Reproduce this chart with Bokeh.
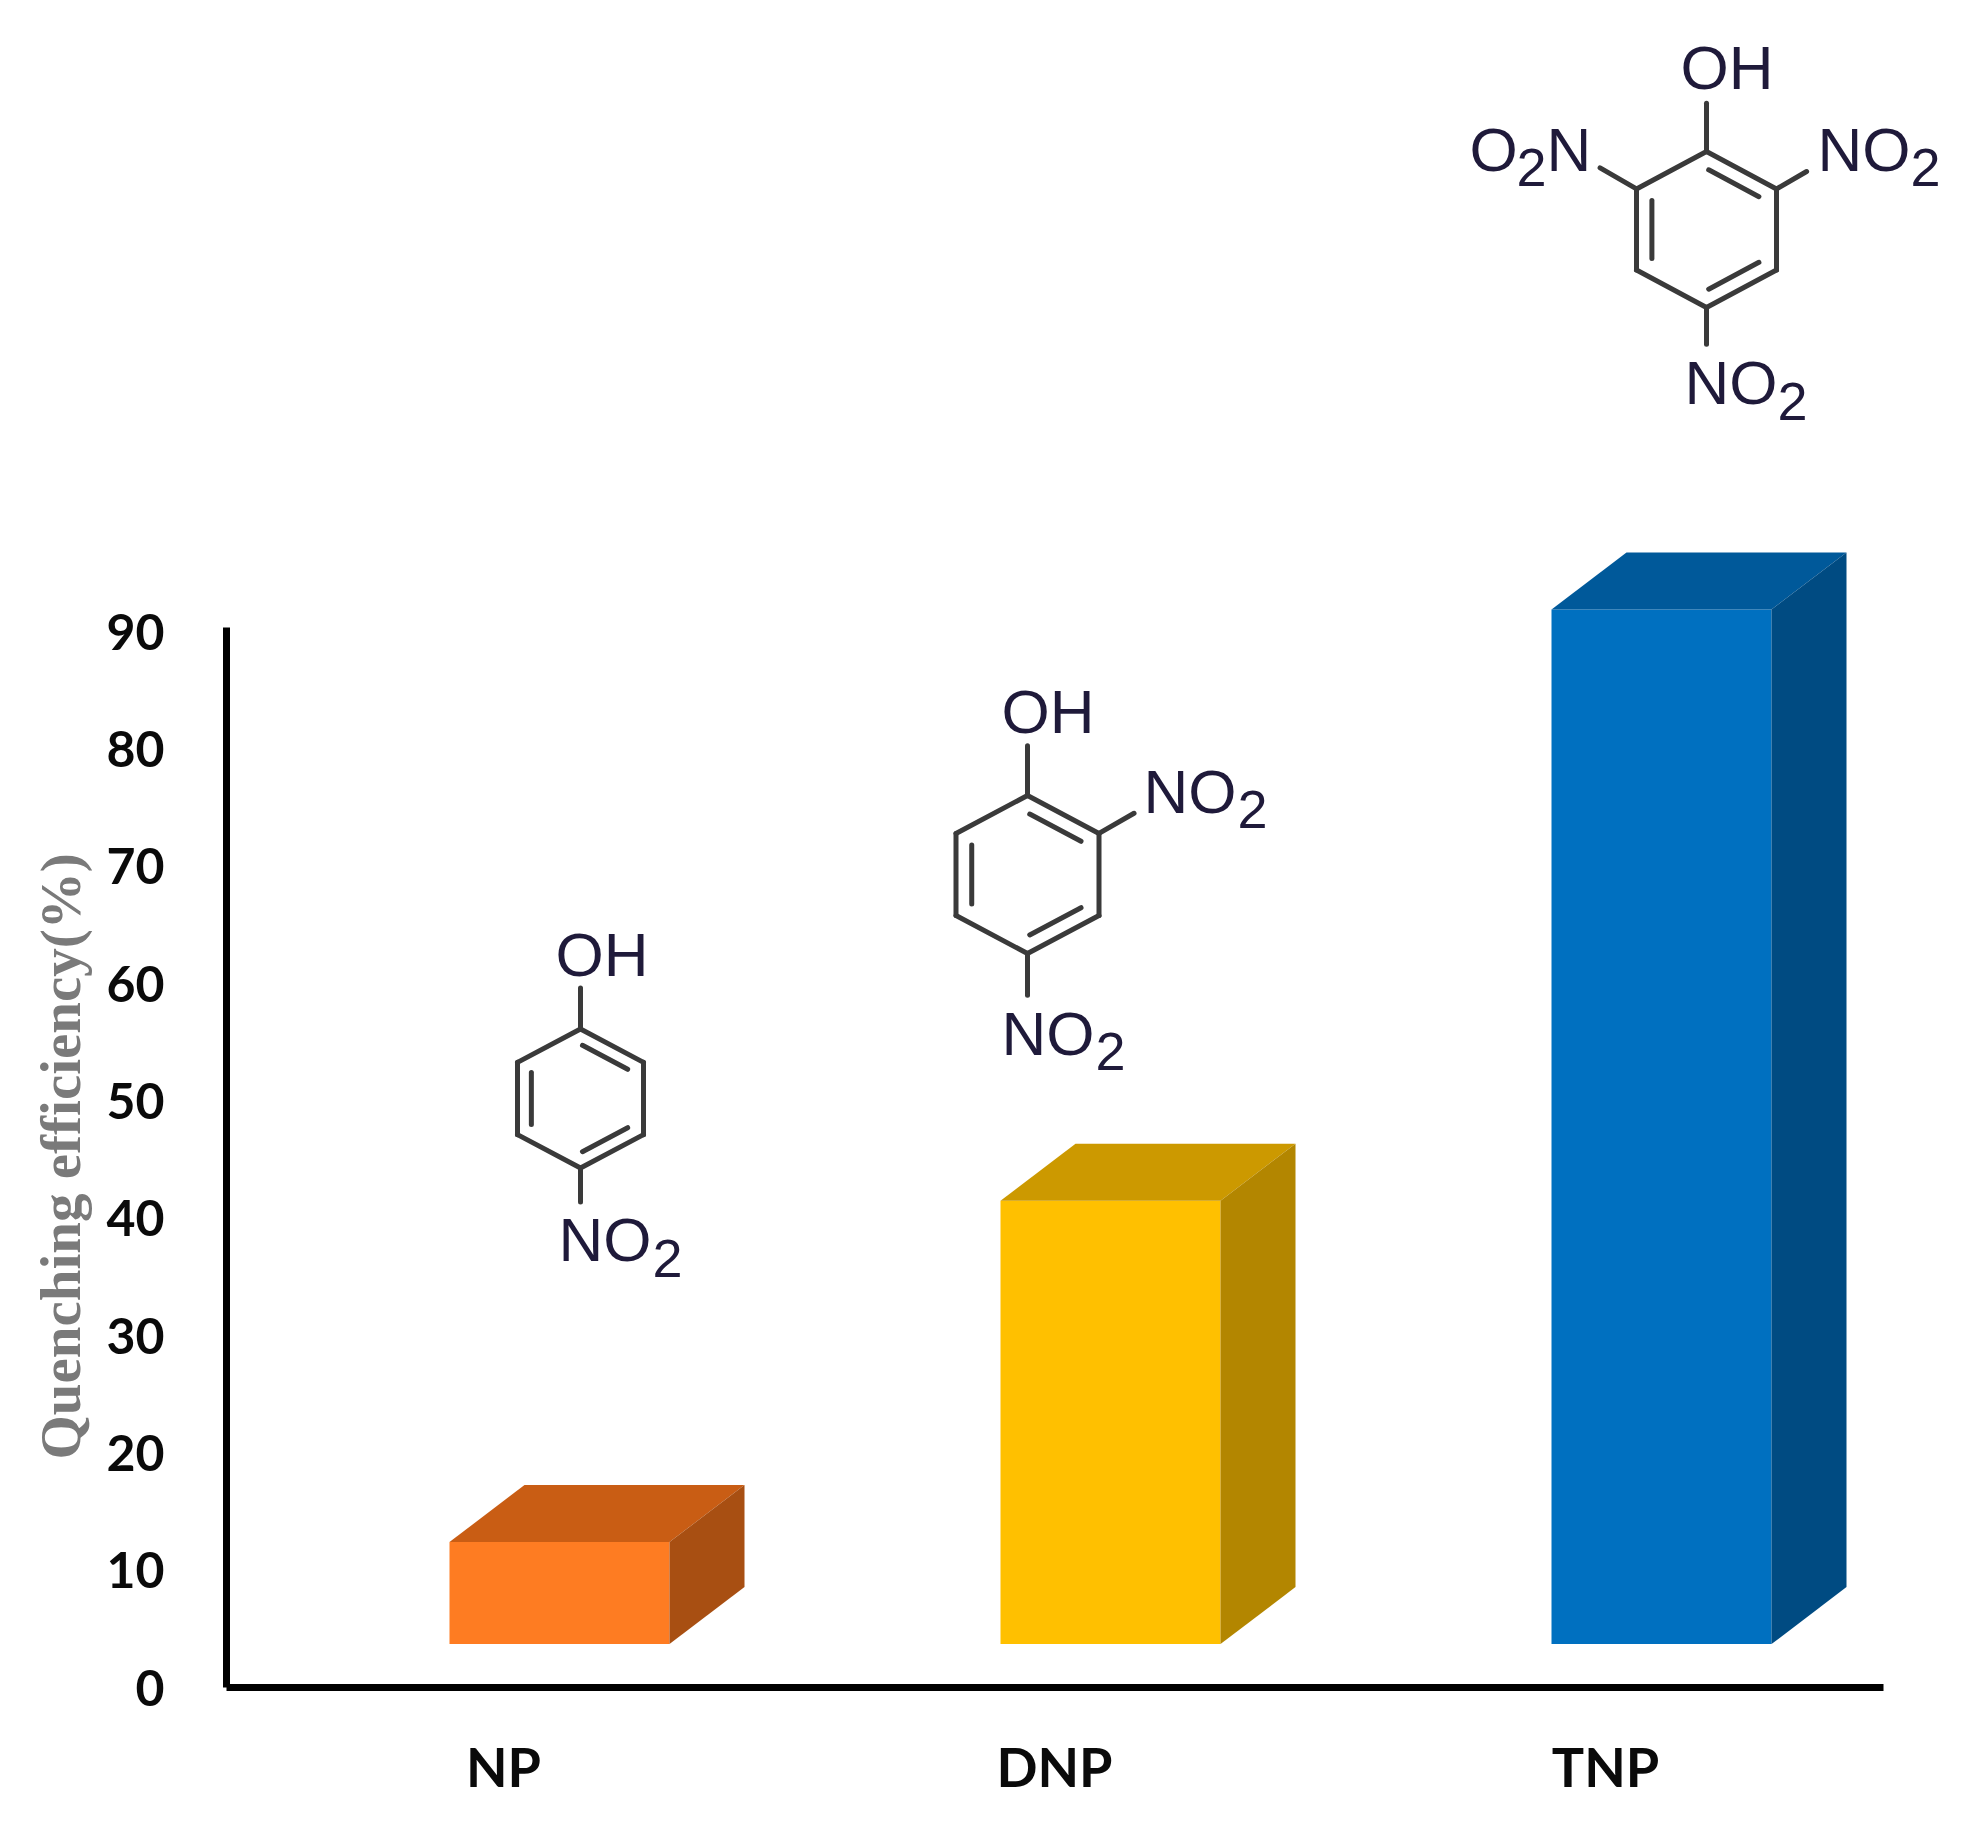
from bokeh.embed import file_html
from bokeh.resources import INLINE
from bokeh.plotting import figure
from bokeh.models import Range1d, FixedTicker, Title
from bokeh.core.properties import value

# ---- data ----
compounds = ["NP", "DNP", "TNP"]
efficiency = [12.4, 41.5, 91.9]
bar_base = 3.7
y_ticks = [0, 10, 20, 30, 40, 50, 60, 70, 80, 90]
y_title = "Quenching efficiency(%)"
front_colors = ["#FE7C22", "#FFC000", "#0070C0"]
top_colors = ["#C95D14", "#CC9900", "#00599A"]
side_colors = ["#A84F12", "#B38600", "#004B82"]

# ---- layout (pixels of the picture) ----
FIG_W, FIG_H = 1959, 1805
FRAME_L, FRAME_B = 226, 1687
PX_PER_Y = 11.73
PX_PER_X = 551.0
X1_PX = 503
BAR_OFFSET = 56 / PX_PER_X
BAR_W = 220 / PX_PER_X
DEPTH_X = 75 / PX_PER_X
DEPTH_Y = 57 / PX_PER_Y

x_start = 1 - (X1_PX - FRAME_L) / PX_PER_X
x_end = 1 + (FIG_W - X1_PX) / PX_PER_X
y_end = FRAME_B / PX_PER_Y

p = figure(width=FIG_W, height=FIG_H, output_backend="svg",
           toolbar_location=None, x_axis_location="below", y_axis_location="left",
           x_range=Range1d(x_start, x_end), y_range=Range1d(0, y_end),
           min_border_left=FRAME_L, min_border_bottom=FIG_H - FRAME_B,
           min_border_top=0, min_border_right=0, outline_line_color=None,
           background_fill_color="white", border_fill_color="white")
p.grid.visible = False
p.extra_x_ranges["px"] = Range1d(FRAME_L, FIG_W)
p.extra_y_ranges["px"] = Range1d(FRAME_B, 0)

# ---- axes ----
xa = p.xaxis[0]
xa.ticker = FixedTicker(ticks=[1, 2, 3])
xa.major_label_overrides = {i + 1: c for i, c in enumerate(compounds)}
xa.bounds = (x_start, 1 + (1883 - X1_PX) / PX_PER_X)
xa.axis_line_width = 7
xa.axis_line_color = "black"
xa.major_tick_line_color = None
xa.minor_tick_line_color = None
xa.major_label_standoff = 40
xa.major_label_text_font = "Lato"
xa.major_label_text_font_style = "bold"
xa.major_label_text_font_size = "54px"
xa.major_label_text_color = "#0a0a0a"

ya = p.yaxis[0]
ya.ticker = FixedTicker(ticks=y_ticks)
ya.bounds = (0, 90.4)
ya.axis_line_width = 7
ya.axis_line_color = "black"
ya.major_tick_line_color = None
ya.minor_tick_line_color = None
ya.major_label_standoff = 56
ya.major_label_text_font = "Lato"
ya.major_label_text_font_style = "bold"
ya.major_label_text_font_size = "50px"
ya.major_label_text_color = "#0a0a0a"

p.add_layout(Title(text=y_title, align="left", offset=228, standoff=24,
                   text_font="Liberation Serif", text_font_style="bold",
                   text_font_size="57px", text_color="#7a7a7a"), "left")

# ---- 3-D bars ----
centers = [i + 1 + BAR_OFFSET for i in range(len(compounds))]
p.vbar(x=centers, width=BAR_W, bottom=bar_base, top=efficiency,
       fill_color=front_colors, line_color=None)
top_x, top_y, side_x, side_y = [], [], [], []
for c, v in zip(centers, efficiency):
    l, r = c - BAR_W / 2, c + BAR_W / 2
    top_x.append([l, r, r + DEPTH_X, l + DEPTH_X])
    top_y.append([v, v, v + DEPTH_Y, v + DEPTH_Y])
    side_x.append([r, r + DEPTH_X, r + DEPTH_X, r])
    side_y.append([bar_base, bar_base + DEPTH_Y, v + DEPTH_Y, v])
p.patches(top_x, top_y, fill_color=top_colors, line_color=None)
p.patches(side_x, side_y, fill_color=side_colors, line_color=None)

# ---- molecule sketches (picture pixels) ----
BOND = "#3a3a3a"
INK = "#1f1a3a"
BASELINE_FIX = 0.39


def molecule(cx, cy, a, b, stubs, labels):
    """Hexagon ring with three inner double bonds, stubs {vertex: factor}."""
    ys = [-b, -0.52 * b, 0.52 * b, b, 0.52 * b, -0.52 * b]
    xs = [0, a, a, 0, -a, -a]
    v = [(cx + dx, cy + dy) for dx, dy in zip(xs, ys)]
    x0, y0, x1, y1 = [], [], [], []
    for i in range(6):
        j = (i + 1) % 6
        x0.append(v[i][0]); y0.append(v[i][1]); x1.append(v[j][0]); y1.append(v[j][1])
    for i, j in [(0, 1), (2, 3), (4, 5)]:
        ax, ay = cx + 0.78 * xs[i], cy + 0.78 * ys[i]
        bx, by = cx + 0.78 * xs[j], cy + 0.78 * ys[j]
        mx, my = (ax + bx) / 2, (ay + by) / 2
        x0.append(mx + 0.92 * (ax - mx)); y0.append(my + 0.92 * (ay - my))
        x1.append(mx + 0.92 * (bx - mx)); y1.append(my + 0.92 * (by - my))
    for k, f in stubs.items():
        x0.append(v[k][0]); y0.append(v[k][1])
        x1.append(v[k][0] + f * xs[k]); y1.append(v[k][1] + f * ys[k])
    p.segment(x0, y0, x1, y1, line_color=BOND, line_width=5, line_cap="round",
              x_range_name="px", y_range_name="px")
    for txt, x, y, size in labels:
        p.text([x], [y - BASELINE_FIX * size], text=[txt], text_font=value("Liberation Sans"),
               text_font_size=f"{size}px", text_color=INK, text_align="left",
               text_baseline="alphabetic", x_range_name="px", y_range_name="px")


MAIN, SUB = 62, 54
molecule(580, 1098, 63, 69.5, {0: 0.59, 3: 0.49},
         [("OH", 555, 978, MAIN), ("NO", 558, 1263, MAIN), ("2", 652, 1279, SUB)])
molecule(1027, 874, 71.5, 79, {0: 0.63, 1: 0.49, 3: 0.53},
         [("OH", 1001, 735, MAIN), ("NO", 1143, 815, MAIN), ("2", 1237, 830, SUB),
          ("NO", 1001, 1057, MAIN), ("2", 1095, 1072, SUB)])
molecule(1706, 229, 70, 78, {0: 0.62, 1: 0.43, 3: 0.47, 5: 0.52},
         [("OH", 1680, 91, MAIN), ("O", 1469, 173, MAIN), ("2", 1516, 188, SUB),
          ("N", 1546, 173, MAIN), ("NO", 1817, 173, MAIN), ("2", 1910, 188, SUB),
          ("NO", 1684, 406, MAIN), ("2", 1777, 422, SUB)])

open("out.html", "w").write(file_html(p, INLINE))
